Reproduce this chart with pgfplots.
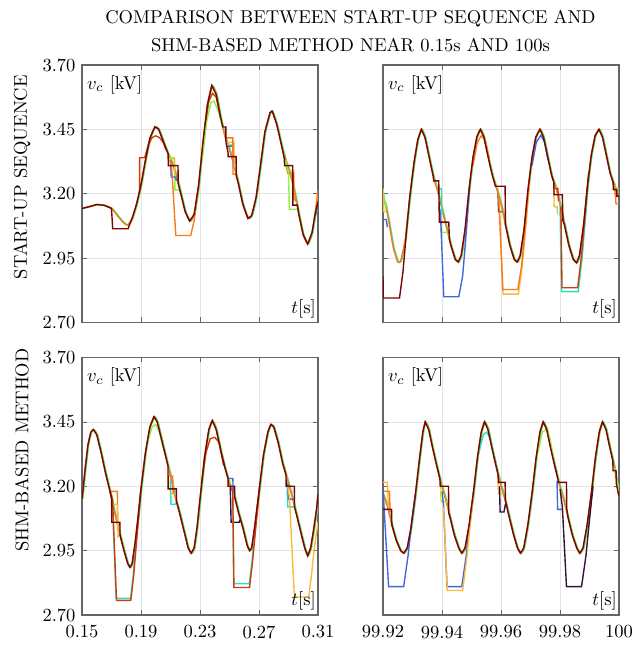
\documentclass[border=0pt]{standalone}
\usepackage{pgfplots}
\usepackage{pgfplotstable}
\pgfplotsset{compat=1.18}
\definecolor{cdp}{HTML}{30123B}
\definecolor{cbl}{HTML}{4167E0}
\definecolor{ccy}{HTML}{2BE0C4}
\definecolor{cgr}{HTML}{8CF04A}
\definecolor{cyg}{HTML}{C8E830}
\definecolor{cye}{HTML}{F8BA38}
\definecolor{cor}{HTML}{F87A1E}
\definecolor{crd}{HTML}{D43A0B}
\definecolor{cdr}{HTML}{7A0403}
\definecolor{frame}{HTML}{666666}
\pgfplotsset{
  panel/.style={
    scale only axis, width=127.44pt, height=139.05pt,
    ymin=2.70, ymax=3.70, ytick={2.70,2.95,3.20,3.45,3.70},
    grid=major, grid style={line width=0.35pt, gray!22},
    axis line style={line width=0.65pt, frame},
    tick style={line width=0.4pt, frame}, major tick length=2.7pt, tick align=inside,
    xticklabel style={yshift=-2.2pt},
    every axis plot/.append style={line width=0.75pt, no marks},
    clip=true,
  },
  leftx/.style={xmin=0.15, xmax=0.31, xtick={0.15,0.19,0.23,0.27,0.31}},
  rightx/.style={xmin=99.92, xmax=100, xtick={99.92,99.94,99.96,99.98,100}},
  basec/.style={smooth, tension=0.3},
}
\pgfplotstableread{
t v
0.150 3.143
0.155 3.150
0.160 3.158
0.165 3.155
0.170 3.143
0.174 3.115
0.178 3.088
0.181 3.078
0.184 3.105
0.187 3.160
0.190 3.235
0.193 3.330
0.196 3.415
0.1994 3.460
0.202 3.450
0.205 3.405
0.208 3.360
0.211 3.320
0.214 3.270
0.217 3.200
0.220 3.130
0.223 3.094
0.226 3.120
0.229 3.230
0.232 3.400
0.235 3.545
0.238 3.620
0.241 3.585
0.244 3.495
0.247 3.420
0.250 3.370
0.253 3.310
0.256 3.240
0.259 3.160
0.2625 3.104
0.265 3.115
0.268 3.185
0.271 3.310
0.274 3.440
0.2775 3.515
0.279 3.520
0.282 3.470
0.285 3.395
0.288 3.330
0.291 3.280
0.294 3.210
0.297 3.120
0.300 3.040
0.303 3.005
0.306 3.050
0.308 3.120
0.310 3.170
}\tlbase
\pgfplotstableread{
t v
0.150 3.143
0.155 3.150
0.160 3.158
0.165 3.155
0.170 3.143
0.1708 3.064
0.1812 3.064
0.184 3.105
0.187 3.160
0.190 3.235
0.193 3.330
0.196 3.415
0.1994 3.460
0.202 3.450
0.205 3.405
0.2084 3.355
0.2085 3.309
0.2151 3.309
0.2152 3.240
0.217 3.200
0.220 3.130
0.223 3.094
0.226 3.120
0.229 3.230
0.232 3.400
0.235 3.545
0.238 3.620
0.241 3.585
0.244 3.495
0.2455 3.459
0.2475 3.459
0.2476 3.400
0.2490 3.360
0.2491 3.344
0.2545 3.344
0.2546 3.270
0.256 3.240
0.259 3.160
0.2625 3.104
0.265 3.115
0.268 3.185
0.271 3.310
0.274 3.440
0.2775 3.515
0.279 3.520
0.282 3.470
0.285 3.395
0.2872 3.335
0.2873 3.309
0.2929 3.309
0.2930 3.156
0.2960 3.156
0.297 3.120
0.300 3.040
0.303 3.005
0.306 3.050
0.308 3.120
0.310 3.170
}\tldr
\pgfplotstableread{
t v
99.9200 3.180
99.9208 3.160
99.9220 3.090
99.9235 2.990
99.9250 2.935
99.9260 2.940
99.9275 3.020
99.9290 3.180
99.9305 3.320
99.9318 3.410
99.9330 3.450
99.9342 3.420
99.9355 3.350
99.9370 3.270
99.9385 3.210
99.9400 3.140
99.9415 3.070
99.9430 3.000
99.9445 2.945
99.9455 2.935
99.9465 2.960
99.9478 3.060
99.9492 3.220
99.9505 3.340
99.9518 3.420
99.9530 3.450
99.9542 3.420
99.9555 3.350
99.9570 3.275
99.9585 3.220
99.9600 3.160
99.9615 3.080
99.9630 3.000
99.9645 2.945
99.9655 2.935
99.9665 2.960
99.9678 3.060
99.9692 3.220
99.9705 3.340
99.9718 3.420
99.9732 3.450
99.9744 3.420
99.9757 3.350
99.9772 3.270
99.9787 3.220
99.9800 3.160
99.9815 3.080
99.9830 3.000
99.9845 2.945
99.9856 2.932
99.9866 2.960
99.9880 3.080
99.9893 3.230
99.9906 3.350
99.9919 3.425
99.9932 3.450
99.9944 3.420
99.9957 3.350
99.9970 3.280
99.9985 3.230
100.0000 3.200
}\trbase
\pgfplotstableread{
t v
99.9200 2.880
99.9201 2.795
99.9256 2.795
99.9268 2.900
99.9280 3.060
99.9290 3.180
99.9305 3.320
99.9318 3.410
99.9330 3.450
99.9342 3.420
99.9355 3.350
99.9370 3.270
99.9372 3.250
99.9389 3.250
99.9391 3.090
99.9423 3.090
99.9425 3.025
99.9430 3.000
99.9445 2.945
99.9455 2.935
99.9465 2.960
99.9478 3.060
99.9492 3.220
99.9505 3.340
99.9518 3.420
99.9530 3.450
99.9542 3.420
99.9555 3.350
99.9570 3.275
99.9581 3.229
99.9614 3.229
99.9615 3.080
99.9630 3.000
99.9645 2.945
99.9655 2.935
99.9665 2.960
99.9678 3.060
99.9692 3.220
99.9705 3.340
99.9718 3.420
99.9732 3.450
99.9744 3.420
99.9757 3.350
99.9772 3.270
99.9779 3.245
99.9780 3.196
99.9808 3.196
99.9810 3.095
99.9815 3.080
99.9830 3.000
99.9845 2.945
99.9856 2.932
99.9866 2.960
99.9880 3.080
99.9893 3.230
99.9906 3.350
99.9919 3.425
99.9932 3.450
99.9944 3.420
99.9957 3.350
99.9970 3.280
99.9980 3.245
99.9981 3.216
99.9992 3.216
99.9993 3.190
100.0000 3.190
}\trdr
\pgfplotstableread{
t v
0.150 3.150
0.152 3.260
0.154 3.360
0.156 3.410
0.1577 3.420
0.160 3.400
0.163 3.330
0.166 3.250
0.169 3.180
0.172 3.100
0.175 3.030
0.178 2.960
0.181 2.900
0.1825 2.885
0.184 2.900
0.186 2.980
0.188 3.080
0.190 3.190
0.193 3.330
0.196 3.430
0.1988 3.470
0.201 3.450
0.204 3.380
0.207 3.310
0.210 3.240
0.213 3.160
0.216 3.100
0.219 3.030
0.222 2.960
0.224 2.940
0.226 2.960
0.228 3.040
0.230 3.150
0.233 3.310
0.236 3.420
0.2383 3.455
0.241 3.420
0.244 3.340
0.247 3.270
0.250 3.210
0.253 3.170
0.256 3.100
0.259 3.040
0.262 2.970
0.2636 2.950
0.265 2.960
0.267 3.040
0.270 3.180
0.273 3.320
0.276 3.410
0.278 3.440
0.280 3.430
0.283 3.370
0.286 3.290
0.289 3.230
0.292 3.170
0.295 3.100
0.298 3.030
0.301 2.960
0.303 2.930
0.305 2.960
0.307 3.030
0.309 3.110
0.310 3.170
}\blbase
\pgfplotstableread{
t v
0.150 3.150
0.152 3.260
0.154 3.360
0.156 3.410
0.1577 3.420
0.160 3.400
0.163 3.330
0.166 3.250
0.169 3.180
0.1701 3.150
0.1702 3.060
0.1757 3.060
0.1758 3.010
0.178 2.960
0.181 2.900
0.1825 2.885
0.184 2.900
0.186 2.980
0.188 3.080
0.190 3.190
0.193 3.330
0.196 3.430
0.1988 3.470
0.201 3.450
0.204 3.380
0.207 3.310
0.2083 3.280
0.2084 3.190
0.2140 3.190
0.2141 3.140
0.216 3.100
0.219 3.030
0.222 2.960
0.224 2.940
0.226 2.960
0.228 3.040
0.230 3.150
0.233 3.310
0.236 3.420
0.2383 3.455
0.241 3.420
0.244 3.340
0.247 3.270
0.2490 3.230
0.2491 3.200
0.2535 3.200
0.2536 3.155
0.256 3.100
0.259 3.040
0.262 2.970
0.2636 2.950
0.265 2.960
0.267 3.040
0.270 3.180
0.273 3.320
0.276 3.410
0.278 3.440
0.280 3.430
0.283 3.370
0.286 3.290
0.2883 3.245
0.2884 3.200
0.2940 3.200
0.2941 3.120
0.295 3.100
0.298 3.030
0.301 2.960
0.303 2.930
0.305 2.960
0.307 3.030
0.309 3.110
0.310 3.170
}\bldr
\pgfplotstableread{
t v
99.9200 3.170
99.9215 3.120
99.9230 3.050
99.9245 2.990
99.9260 2.950
99.9270 2.940
99.9282 2.960
99.9295 3.040
99.9310 3.170
99.9323 3.300
99.9335 3.410
99.9343 3.450
99.9355 3.420
99.9368 3.350
99.9382 3.280
99.9397 3.210
99.9412 3.150
99.9427 3.080
99.9442 3.010
99.9457 2.960
99.9467 2.940
99.9478 2.960
99.9492 3.050
99.9507 3.180
99.9520 3.310
99.9533 3.410
99.9544 3.450
99.9556 3.420
99.9569 3.350
99.9583 3.280
99.9598 3.210
99.9613 3.150
99.9628 3.080
99.9643 3.010
99.9656 2.960
99.9666 2.940
99.9677 2.960
99.9691 3.050
99.9706 3.180
99.9719 3.310
99.9732 3.410
99.9743 3.450
99.9755 3.420
99.9768 3.350
99.9782 3.280
99.9797 3.210
99.9812 3.150
99.9827 3.080
99.9842 3.010
99.9857 2.960
99.9867 2.940
99.9878 2.960
99.9892 3.050
99.9907 3.180
99.9920 3.310
99.9933 3.410
99.9944 3.450
99.9956 3.420
99.9969 3.350
99.9983 3.280
100.0000 3.160
}\brbase
\pgfplotstableread{
t v
99.9200 3.110
99.9229 3.110
99.9230 3.050
99.9245 2.990
99.9260 2.950
99.9270 2.940
99.9282 2.960
99.9295 3.040
99.9310 3.170
99.9323 3.300
99.9335 3.410
99.9343 3.450
99.9355 3.420
99.9368 3.350
99.9382 3.280
99.9393 3.228
99.9394 3.200
99.9422 3.200
99.9423 3.095
99.9427 3.080
99.9442 3.010
99.9457 2.960
99.9467 2.940
99.9478 2.960
99.9492 3.050
99.9507 3.180
99.9520 3.310
99.9533 3.410
99.9544 3.450
99.9556 3.420
99.9569 3.350
99.9583 3.280
99.9590 3.245
99.9591 3.215
99.9614 3.215
99.9615 3.145
99.9628 3.080
99.9643 3.010
99.9656 2.960
99.9666 2.940
99.9677 2.960
99.9691 3.050
99.9706 3.180
99.9719 3.310
99.9732 3.410
99.9743 3.450
99.9755 3.420
99.9768 3.350
99.9782 3.280
99.9793 3.228
99.9794 3.215
99.9822 3.215
99.9823 3.110
99.9827 3.080
99.9842 3.010
99.9857 2.960
99.9867 2.940
99.9878 2.960
99.9892 3.050
99.9907 3.180
99.9920 3.310
99.9933 3.410
99.9944 3.450
99.9956 3.420
99.9969 3.350
99.9979 3.300
99.9980 3.260
99.9990 3.260
99.9991 3.210
100.0000 3.160
}\brdr
\begin{document}
\begin{tikzpicture}
\useasboundingbox (-44.28pt,-18.9pt) rectangle (299.16pt,332.1pt);
% ---------------- top left
\begin{axis}[panel, leftx, at={(0pt,157.95pt)}, anchor=south west,
  yticklabels={2.70,2.95,3.20,3.45,3.70}, xticklabels={}]
\addplot[cgr, basec] table[x expr=\thisrow{t}+0.0006,y=v]{\tlbase};
\addplot[ccy, basec] table[x expr=\thisrow{t}+0.0003,y=v]{\tlbase};
\addplot[cor, basec] table[x=t,y=v]{\tlbase};
\addplot[crd] coordinates {(0.1890,3.20) (0.1891,3.34) (0.1925,3.34) (0.1950,3.39) (0.1975,3.418) (0.2000,3.425) (0.2025,3.418) (0.2050,3.40) (0.2070,3.37)};
\addplot[cgr] coordinates {(0.2078,3.335) (0.2128,3.335) (0.2130,3.215) (0.2160,3.215) (0.2170,3.20)};
\addplot[cye] coordinates {(0.2095,3.34) (0.2125,3.34) (0.2128,3.28)};
\addplot[cbl] coordinates {(0.2100,3.33) (0.2105,3.265) (0.2135,3.265) (0.2140,3.25)};
\addplot[cor] coordinates {(0.2095,3.33) (0.2108,3.30) (0.2136,3.038) (0.2237,3.038) (0.2262,3.10) (0.2278,3.18) (0.2290,3.23)};
\addplot[cgr] coordinates {(0.2315,3.33) (0.2345,3.48) (0.2375,3.555) (0.2395,3.560) (0.2425,3.52) (0.2455,3.455)};
\addplot[crd] coordinates {(0.2335,3.47) (0.2360,3.56) (0.2385,3.590) (0.2410,3.575) (0.2440,3.495)};
\addplot[cgr] coordinates {(0.2475,3.39) (0.2525,3.39) (0.2527,3.30)};
\addplot[cbl] coordinates {(0.2480,3.385) (0.2525,3.385) (0.2527,3.30)};
\addplot[cye] coordinates {(0.2475,3.40) (0.2530,3.40) (0.2532,3.30)};
\addplot[cor] coordinates {(0.2470,3.417) (0.2523,3.417) (0.2524,3.276) (0.2545,3.276) (0.2560,3.24)};
\addplot[cye] coordinates {(0.2880,3.33) (0.2890,3.29) (0.2935,3.29) (0.2937,3.20)};
\addplot[cor] coordinates {(0.2880,3.33) (0.2895,3.28) (0.2935,3.28) (0.2937,3.18) (0.2955,3.17)};
\addplot[cgr] coordinates {(0.2880,3.33) (0.2900,3.28) (0.2906,3.140) (0.2962,3.140)};
\addplot[cbl] coordinates {(0.3075,3.10) (0.3100,3.155)};
\addplot[cgr] coordinates {(0.3075,3.10) (0.3100,3.205)};
\addplot[cor] coordinates {(0.3078,3.11) (0.3100,3.215)};
\addplot[cdr] table[x=t,y=v]{\tldr};
\node[anchor=north west, inner sep=0pt] at (rel axis cs:0.02,0.962) {$v_c$ [kV]};
\node[anchor=south east, inner sep=0pt] at (rel axis cs:0.992,0.016) {$t$[s]};
\end{axis}
% ---------------- top right
\begin{axis}[panel, rightx, at={(162.54pt,157.95pt)}, anchor=south west,
  yticklabels={}, xticklabels={}]
\addplot[cgr, basec] table[x expr=\thisrow{t}+0.0003,y=v]{\trbase};
\addplot[ccy, basec] table[x expr=\thisrow{t}+0.00015,y=v]{\trbase};
\addplot[cor, basec] table[x=t,y=v]{\trbase};
\addplot[cbl] coordinates {(99.9200,3.10) (99.9211,3.10) (99.9215,3.07)};
\addplot[cgr] coordinates {(99.9200,3.22) (99.9204,3.19) (99.9210,3.14)};
\addplot[cye] coordinates {(99.9200,3.21) (99.9203,3.13) (99.9208,3.13)};
\addplot[ccy] coordinates {(99.9385,3.22) (99.9398,3.22) (99.9400,3.12)};
\addplot[cgr] coordinates {(99.9395,3.14) (99.9397,3.05) (99.9423,3.05) (99.9425,3.03)};
\addplot[cbl] coordinates {(99.9390,3.15) (99.9395,3.12) (99.9406,2.800) (99.9457,2.800) (99.9470,2.88) (99.9483,3.06) (99.9495,3.25)};
\addplot[cor] coordinates {(99.9505,3.31) (99.9520,3.40) (99.9533,3.425) (99.9546,3.41) (99.9560,3.34)};
\addplot[cdp] coordinates {(99.9590,3.20) (99.9592,3.13) (99.9602,3.13)};
\addplot[cye] coordinates {(99.9594,3.17) (99.9607,2.810) (99.9659,2.810) (99.9672,2.92) (99.9685,3.08) (99.9697,3.25)};
\addplot[cor] coordinates {(99.9588,3.22) (99.9593,3.17) (99.9606,2.828) (99.9657,2.828) (99.9670,2.92) (99.9683,3.08) (99.9695,3.25)};
\addplot[cbl] coordinates {(99.9705,3.31) (99.9720,3.40) (99.9735,3.427) (99.9748,3.40) (99.9760,3.33)};
\addplot[cye] coordinates {(99.9779,3.22) (99.9780,3.15) (99.9790,3.15) (99.9792,3.12)};
\addplot[crd] coordinates {(99.9782,3.22) (99.9793,3.22) (99.9795,3.17)};
\addplot[ccy] coordinates {(99.9800,3.16) (99.9805,2.820) (99.9862,2.820) (99.9875,2.95) (99.9888,3.13) (99.9898,3.28)};
\addplot[crd] coordinates {(99.9803,3.15) (99.9807,2.835) (99.9860,2.835) (99.9873,2.96) (99.9886,3.13) (99.9897,3.28)};
\addplot[cgr] coordinates {(99.9985,3.24) (99.9990,3.22) (100,3.22)};
\addplot[cor] coordinates {(99.9985,3.24) (99.9990,3.16) (100,3.16)};
\addplot[cdr] table[x=t,y=v]{\trdr};
\node[anchor=north west, inner sep=0pt] at (rel axis cs:0.02,0.962) {$v_c$ [kV]};
\node[anchor=south east, inner sep=0pt] at (rel axis cs:0.992,0.016) {$t$[s]};
\end{axis}
% ---------------- bottom left
\begin{axis}[panel, leftx, at={(0pt,0pt)}, anchor=south west,
  yticklabels={2.70,2.95,3.20,3.45,3.70}, xticklabels={0.15,0.19,0.23,0.27,0.31}]
\addplot[cgr, basec] table[x expr=\thisrow{t}+0.0006,y=v]{\blbase};
\addplot[ccy, basec] table[x expr=\thisrow{t}+0.0003,y=v]{\blbase};
\addplot[cor, basec] table[x=t,y=v]{\blbase};
\addplot[cor] coordinates {(0.1690,3.18) (0.1740,3.18) (0.1742,3.03) (0.1750,3.03)};
\addplot[cye] coordinates {(0.1700,3.15) (0.1705,3.13) (0.1740,3.13) (0.1745,3.00)};
\addplot[ccy] coordinates {(0.1705,3.15) (0.1731,2.765) (0.1829,2.765) (0.1848,2.86) (0.1873,3.03) (0.1898,3.18)};
\addplot[crd] coordinates {(0.1690,3.18) (0.1707,3.15) (0.1734,2.757) (0.1831,2.757) (0.1850,2.85) (0.1875,3.02) (0.1900,3.19)};
\addplot[cgr] coordinates {(0.1950,3.38) (0.1975,3.43) (0.2000,3.440) (0.2025,3.41) (0.2050,3.35)};
\addplot[cor] coordinates {(0.2090,3.26) (0.2095,3.24) (0.2115,3.24) (0.2118,3.17)};
\addplot[cye] coordinates {(0.2098,3.22) (0.2100,3.17) (0.2130,3.17)};
\addplot[ccy] coordinates {(0.2100,3.23) (0.2103,3.13) (0.2135,3.13) (0.2140,3.14)};
\addplot[crd] coordinates {(0.2310,3.21) (0.2340,3.33) (0.2370,3.385) (0.2400,3.390) (0.2430,3.37) (0.2460,3.28)};
\addplot[cbl] coordinates {(0.2489,3.23) (0.2523,3.23) (0.2525,3.17)};
\addplot[cdp] coordinates {(0.2505,3.20) (0.2511,3.06) (0.2567,3.06) (0.2570,3.07)};
\addplot[ccy] coordinates {(0.2522,3.18) (0.2528,2.822) (0.2634,2.822) (0.2653,2.91) (0.2678,3.06) (0.2703,3.19)};
\addplot[crd] coordinates {(0.2515,3.19) (0.2522,3.18) (0.2530,2.807) (0.2636,2.807) (0.2655,2.90) (0.2680,3.05) (0.2705,3.20)};
\addplot[ccy] coordinates {(0.2890,3.22) (0.2895,3.12) (0.2940,3.12) (0.2945,3.11)};
\addplot[cbl] coordinates {(0.2895,3.21) (0.2900,3.15) (0.2935,3.15)};
\addplot[cye] coordinates {(0.2895,3.20) (0.2906,3.16) (0.2940,2.770) (0.3037,2.770) (0.3055,2.85) (0.3075,2.96) (0.3100,3.06)};
\addplot[cdr] table[x=t,y=v]{\bldr};
\node[anchor=north west, inner sep=0pt] at (rel axis cs:0.02,0.962) {$v_c$ [kV]};
\node[anchor=south east, inner sep=0pt] at (rel axis cs:0.992,0.016) {$t$[s]};
\end{axis}
% ---------------- bottom right
\begin{axis}[panel, rightx, at={(162.54pt,0pt)}, anchor=south west,
  yticklabels={}, xticklabels={99.92,99.94,99.96,99.98,100}]
\addplot[cgr, basec] table[x expr=\thisrow{t}+0.0003,y=v]{\brbase};
\addplot[ccy, basec] table[x expr=\thisrow{t}+0.00015,y=v]{\brbase};
\addplot[cor, basec] table[x=t,y=v]{\brbase};
\addplot[cye] coordinates {(99.9200,3.215) (99.9215,3.215) (99.9218,3.12)};
\addplot[cor] coordinates {(99.9200,3.18) (99.9222,3.18) (99.9224,3.10)};
\addplot[cbl] coordinates {(99.9200,3.19) (99.9219,2.810) (99.9270,2.810) (99.9285,2.93) (99.9298,3.07) (99.9310,3.17)};
\addplot[cyg] coordinates {(99.9395,3.20) (99.9397,3.14) (99.9420,3.14)};
\addplot[cbl] coordinates {(99.9400,3.18) (99.9405,3.13) (99.9417,2.810) (99.9467,2.810) (99.9482,2.93) (99.9495,3.07) (99.9507,3.18)};
\addplot[cye] coordinates {(99.9405,3.12) (99.9418,2.795) (99.9470,2.795) (99.9485,2.93) (99.9498,3.08) (99.9509,3.19)};
\addplot[ccy] coordinates {(99.9525,3.33) (99.9540,3.40) (99.9552,3.41) (99.9565,3.38) (99.9578,3.31)};
\addplot[cye] coordinates {(99.9590,3.22) (99.9592,3.17) (99.9608,3.17)};
\addplot[cdp] coordinates {(99.9595,3.20) (99.9597,3.10) (99.9610,3.10) (99.9615,3.13)};
\addplot[cgr] coordinates {(99.9725,3.33) (99.9740,3.410) (99.9752,3.42) (99.9765,3.39) (99.9778,3.31)};
\addplot[cbl] coordinates {(99.9790,3.22) (99.9792,3.11) (99.9808,3.11)};
\addplot[cdp] coordinates {(99.9800,3.19) (99.9808,3.12) (99.9822,2.810) (99.9873,2.810) (99.9888,2.93) (99.9900,3.07) (99.9912,3.20)};
\addplot[cgr] coordinates {(99.9985,3.27) (100,3.18)};
\addplot[cdr] table[x=t,y=v]{\brdr};
\node[anchor=north west, inner sep=0pt] at (rel axis cs:0.02,0.962) {$v_c$ [kV]};
\node[anchor=south east, inner sep=0pt] at (rel axis cs:0.992,0.016) {$t$[s]};
\end{axis}
% ---------------- labels
\node[rotate=90] at (-32.4pt,236.5pt) {START-UP SEQUENCE};
\node[rotate=90] at (-32.4pt,89.1pt) {SHM-BASED METHOD};
\node[align=center, font=\fontsize{10}{15.12}\selectfont] at (145pt,315.4pt) {COMPARISON BETWEEN START-UP SEQUENCE AND\\SHM-BASED METHOD NEAR 0.15s AND 100s};
\end{tikzpicture}
\end{document}
